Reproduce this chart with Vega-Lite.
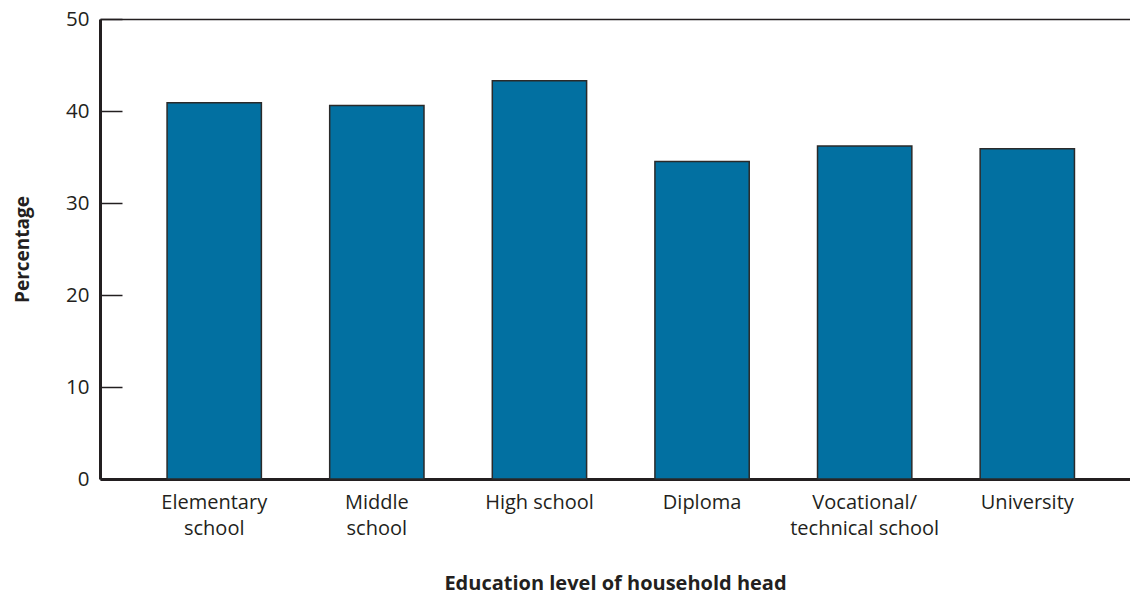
{
  "$schema": "https://vega.github.io/schema/vega-lite/v6.json",
  "autosize": "none",
  "padding": {"left": 100, "top": 19, "right": 0, "bottom": 115},
  "width": 1030,
  "height": 460,
  "background": "white",
  "config": {
    "view": {"stroke": null},
    "font": "Open Sans",
    "axis": {"labelColor": "#231f20", "titleColor": "#231f20", "labelFont": "Open Sans", "titleFont": "Open Sans"}
  },
  "data": {
    "values": [
      {"level": "Elementary school", "pct": 40.9},
      {"level": "Middle school", "pct": 40.6},
      {"level": "High school", "pct": 43.3},
      {"level": "Diploma", "pct": 34.5},
      {"level": "Vocational/technical school", "pct": 36.2},
      {"level": "University", "pct": 35.9}
    ]
  },
  "layer": [
    {
      "mark": {"type": "bar", "color": "#0270a1", "stroke": "#2a2a2a", "strokeWidth": 1.5},
      "encoding": {
        "x": {
          "field": "level", "type": "nominal", "sort": null,
          "scale": {"paddingInner": 0.42, "paddingOuter": 0.377, "align": 0.547},
          "axis": {
            "orient": "bottom",
            "title": "Education level of household head",
            "titleFontSize": 20, "titleFontWeight": "bold", "titlePadding": 35,
            "labelFontSize": 20, "labelAngle": 0, "labelPadding": 13, "labelLineHeight": 26,
            "labelExpr": "datum.label == 'Elementary school' ? ['Elementary','school'] : datum.label == 'Middle school' ? ['Middle','school'] : datum.label == 'Vocational/technical school' ? ['Vocational/','technical school'] : datum.label",
            "ticks": false,
            "domainColor": "#231f20", "domainWidth": 3
          }
        },
        "y": {
          "field": "pct", "type": "quantitative",
          "scale": {"domain": [0, 50]},
          "axis": {
            "title": "Percentage",
            "titleFontSize": 19, "titleFontWeight": "bold", "titlePadding": 33,
            "values": [0, 10, 20, 30, 40, 50],
            "labelFontSize": 20.5, "labelPadding": 33,
            "tickSize": -22, "tickColor": "#231f20", "tickWidth": 1.5,
            "domainColor": "#231f20", "domainWidth": 3,
            "grid": false
          }
        }
      }
    },
    {
      "mark": {"type": "bar", "opacity": 0},
      "encoding": {
        "x": {
          "field": "level", "type": "nominal", "sort": null,
          "axis": {"orient": "top", "title": null, "labels": false, "ticks": false, "domainColor": "#231f20", "domainWidth": 1.5}
        },
        "y": {"field": "pct", "type": "quantitative"}
      }
    }
  ],
  "resolve": {"axis": {"x": "independent"}}
}
